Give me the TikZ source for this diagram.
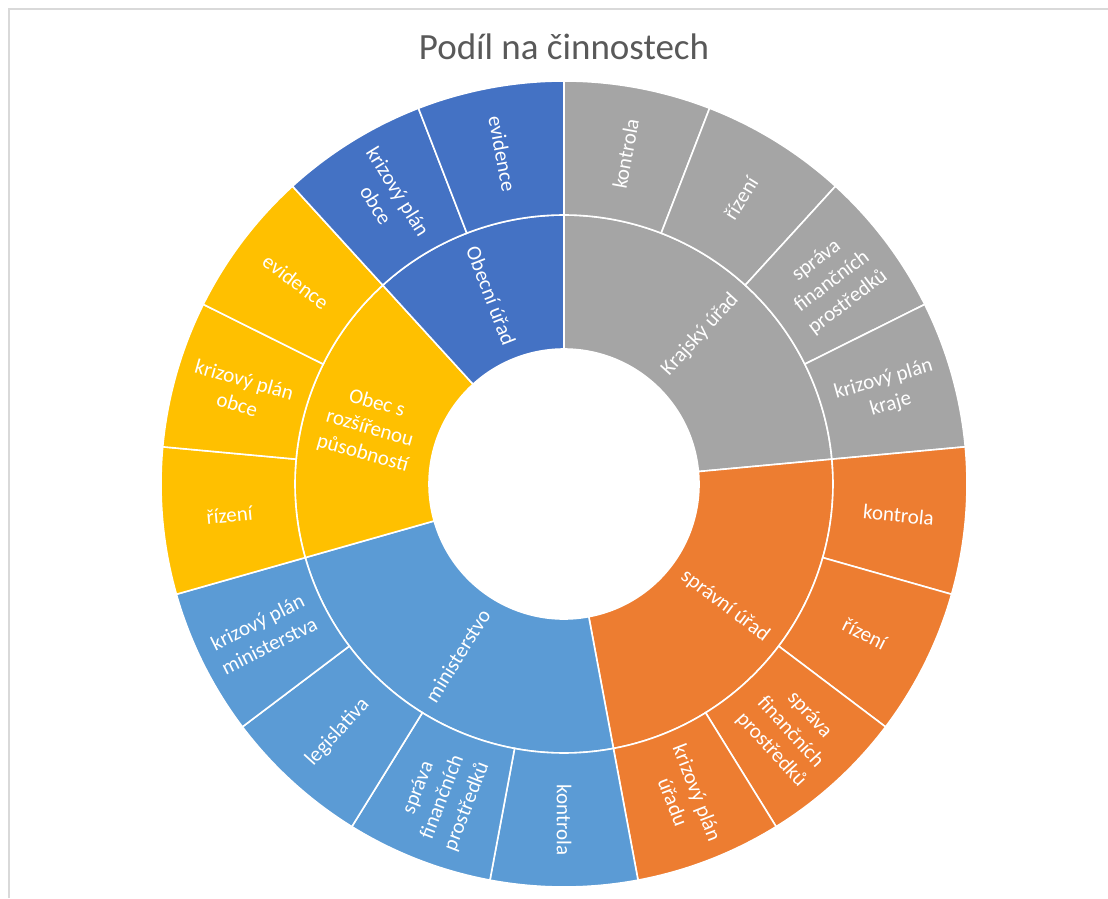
\documentclass[tikz,border=0pt]{standalone}
\usepackage{fontspec}
\setmainfont{Carlito}
\definecolor{cgray}{HTML}{A5A5A5}
\definecolor{corange}{HTML}{ED7D31}
\definecolor{cblue}{HTML}{5B9BD5}
\definecolor{cyellow}{HTML}{FFC000}
\definecolor{cdblue}{HTML}{4472C4}
\definecolor{ctitle}{HTML}{595959}
\definecolor{cframe}{HTML}{D9D9D9}
\newcommand{\SunA}{21.1764706}
\newcommand{\sunseg}[5]{%
  \pgfmathsetmacro\sa{90-(#1)*\SunA}%
  \pgfmathsetmacro\ea{90-(#1+#2)*\SunA}%
  \filldraw[segstyle, fill=#5] (\sa:#3) arc[start angle=\sa, end angle=\ea, radius=#3] -- (\ea:#4) arc[start angle=\ea, end angle=\sa, radius=#4] -- cycle;%
}
\newcommand{\sunlab}[4]{%
  \pgfmathsetmacro\mm{90-(#2)*\SunA}%
  \pgfmathsetmacro\rr{\mm < -90.01 ? \mm+180 : \mm}%
  \node[labstyle, rotate=\rr] (#1) at (\mm:#3) {#4};%
}
\tikzset{
  segstyle/.style={draw=white, line width=1.6pt, line join=miter},
  labstyle/.style={text=white, align=center, font=\fontsize{21}{26}\selectfont, inner sep=0pt},
  titlestyle/.style={text=ctitle, font=\fontsize{37}{41}\selectfont, inner sep=0pt},
}
\begin{document}
\begin{tikzpicture}[x=1pt,y=1pt]
\useasboundingbox (-564,-414) rectangle (544,484);
\fill[white] (-564,-414) rectangle (544,484);
\draw[cframe, line width=2pt] (-555,-414) -- (-555,475) -- (544,475);
\node[titlestyle] (title) at (0,437) {Podíl na činnostech};
% inner ring
\sunseg{0}{4}{135pt}{269pt}{cgray}
\sunseg{4}{4}{135pt}{269pt}{corange}
\sunseg{8}{4}{135pt}{269pt}{cblue}
\sunseg{12}{3}{135pt}{269pt}{cyellow}
\sunseg{15}{2}{135pt}{269pt}{cdblue}
% outer ring
\foreach \i in {0,1,2,3}{\sunseg{\i}{1}{269pt}{403pt}{cgray}}
\foreach \i in {4,5,6,7}{\sunseg{\i}{1}{269pt}{403pt}{corange}}
\foreach \i in {8,9,10,11}{\sunseg{\i}{1}{269pt}{403pt}{cblue}}
\foreach \i in {12,13,14}{\sunseg{\i}{1}{269pt}{403pt}{cyellow}}
\foreach \i in {15,16}{\sunseg{\i}{1}{269pt}{403pt}{cdblue}}
% inner labels
\sunlab{g1}{2}{202pt}{Krajský úřad}
\sunlab{g2}{6}{202pt}{správní úřad}
\sunlab{g3}{10}{202pt}{ministerstvo}
\sunlab{g4}{13.5}{202pt}{Obec s\\rozšířenou\\působností}
\sunlab{g5}{16}{202pt}{Obecní úřad}
% outer labels
\sunlab{l0}{0.5}{336pt}{kontrola}
\sunlab{l1}{1.5}{336pt}{řízení}
\sunlab{l2}{2.5}{336pt}{správa\\finančních\\prostředků}
\sunlab{l3}{3.5}{336pt}{krizový plán\\kraje}
\sunlab{l4}{4.5}{336pt}{kontrola}
\sunlab{l5}{5.5}{336pt}{řízení}
\sunlab{l6}{6.5}{336pt}{správa\\finančních\\prostředků}
\sunlab{l7}{7.5}{336pt}{krizový plán\\úřadu}
\sunlab{l8}{8.5}{336pt}{kontrola}
\sunlab{l9}{9.5}{336pt}{správa\\finančních\\prostředků}
\sunlab{l10}{10.5}{336pt}{legislativa}
\sunlab{l11}{11.5}{336pt}{krizový plán\\ministerstva}
\sunlab{l12}{12.5}{336pt}{řízení}
\sunlab{l13}{13.5}{336pt}{krizový plán\\obce}
\sunlab{l14}{14.5}{336pt}{evidence}
\sunlab{l15}{15.5}{336pt}{krizový plán\\obce}
\sunlab{l16}{16.5}{336pt}{evidence}
\end{tikzpicture}
\end{document}
